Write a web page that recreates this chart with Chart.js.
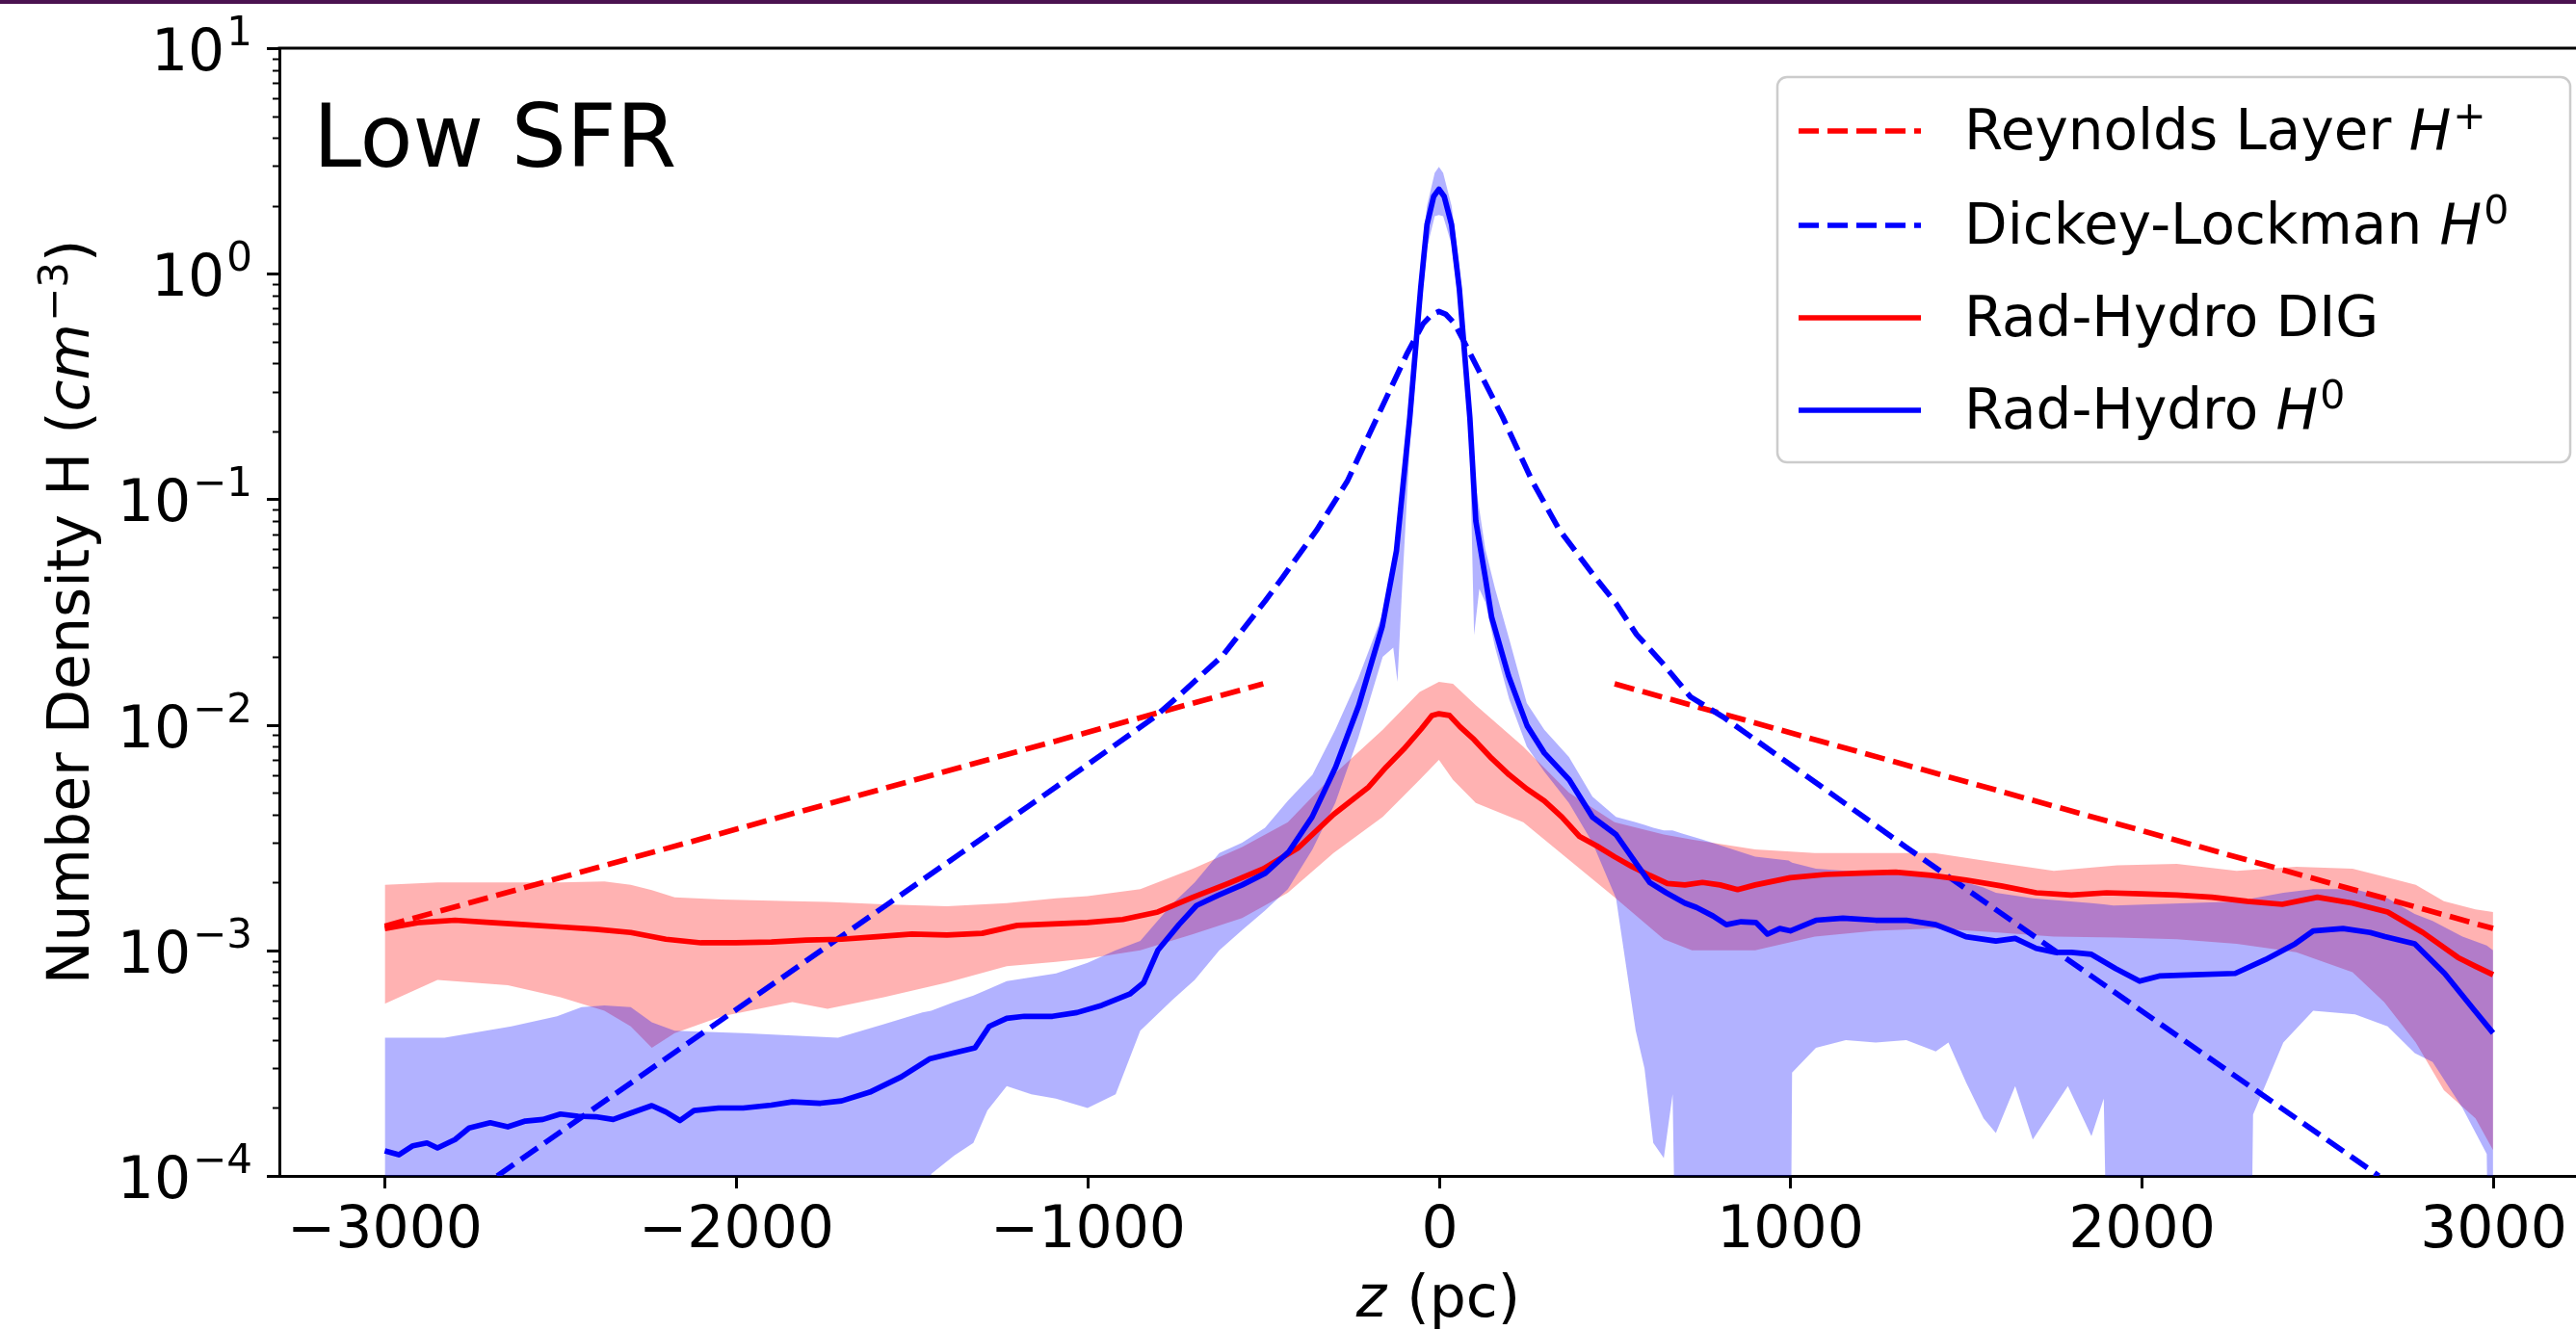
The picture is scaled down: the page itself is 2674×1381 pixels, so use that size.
<!DOCTYPE html>
<html><head><meta charset="utf-8">
<script src="https://cdn.jsdelivr.net/npm/chart.js@4.4.0/dist/chart.umd.min.js"></script>
<style>html,body{margin:0;padding:0;background:#fff;overflow:hidden}canvas{display:block}</style>
</head><body>
<canvas id="c" width="2674" height="1381"></canvas>
<script>
// ---------------- data ----------------
const xTickValues = [-3000, -2000, -1000, 0, 1000, 2000, 3000];
const xTickLabels = ['−3000', '−2000', '−1000', '0', '1000', '2000', '3000'];
const yTickValues = [1e-4, 1e-3, 1e-2, 1e-1, 1, 10];
const yTickExponents = ['−4', '−3', '−2', '−1', '0', '1'];

// Reynolds Layer H+ (dashed red), gap at the midplane
const reyZ = [-3000, -500, 0, 500, 3000];
const reyN = [1.28e-3, 0.0152, null, 0.0152, 1.25e-3];

// Dickey-Lockman H0 (dashed blue)
const dlZ = [-2680, -1360, -1090, -810, -730, -614, -494, -445, -348, -261, -175, -90, -45, -20, 0, 20, 45, 88, 181, 266, 343, 445, 504, 562, 637, 716, 810, 1090, 1329, 2675];
const dlN = [1.0e-4, 2.7e-3, 5.3e-3, 1.08e-2, 1.39e-2, 2.04e-2, 3.55e-2, 4.5e-2, 7.3e-2, 0.12, 0.232, 0.445, 0.6, 0.66, 0.68, 0.66, 0.6, 0.445, 0.232, 0.12, 0.073, 0.045, 0.0345, 0.0252, 0.0187, 0.0133, 1.08e-2, 5.3e-3, 2.87e-3, 1.0e-4];

// Rad-Hydro DIG mean (solid red)
const digZ = [-3000, -2900, -2800, -2700, -2600, -2500, -2400, -2300, -2200, -2100, -2000, -1900, -1800, -1700, -1600, -1500, -1400, -1300, -1200, -1100, -1000, -900, -800, -700, -600, -500, -400, -300, -200, -150, -100, -50, -20, 0, 30, 60, 100, 150, 200, 250, 300, 350, 400, 450, 500, 550, 600, 650, 700, 750, 800, 850, 900, 1000, 1100, 1200, 1300, 1400, 1500, 1600, 1700, 1800, 1900, 2000, 2100, 2200, 2300, 2400, 2500, 2600, 2700, 2800, 2900, 2950, 3000];
const digN = [1.25e-3, 1.33e-3, 1.36e-3, 1.33e-3, 1.3e-3, 1.27e-3, 1.24e-3, 1.2e-3, 1.12e-3, 1.08e-3, 1.08e-3, 1.09e-3, 1.11e-3, 1.12e-3, 1.15e-3, 1.18e-3, 1.17e-3, 1.19e-3, 1.29e-3, 1.31e-3, 1.33e-3, 1.37e-3, 1.48e-3, 1.72e-3, 1.98e-3, 2.3e-3, 2.85e-3, 4.0e-3, 5.3e-3, 6.5e-3, 7.8e-3, 9.6e-3, 1.1e-2, 1.12e-2, 1.1e-2, 9.8e-3, 8.6e-3, 7.1e-3, 6.0e-3, 5.2e-3, 4.6e-3, 3.9e-3, 3.2e-3, 2.9e-3, 2.6e-3, 2.35e-3, 2.15e-3, 1.98e-3, 1.95e-3, 2.0e-3, 1.95e-3, 1.86e-3, 1.95e-3, 2.1e-3, 2.17e-3, 2.2e-3, 2.22e-3, 2.15e-3, 2.05e-3, 1.93e-3, 1.8e-3, 1.76e-3, 1.8e-3, 1.78e-3, 1.76e-3, 1.72e-3, 1.65e-3, 1.6e-3, 1.72e-3, 1.62e-3, 1.48e-3, 1.2e-3, 9.3e-4, 8.5e-4, 7.8e-4];

// Rad-Hydro DIG spread (red band)
const digBandZ = [-3000, -2850, -2650, -2500, -2375, -2300, -2240, -2175, -2040, -1840, -1740, -1580, -1400, -1230, -1090, -1000, -850, -700, -560, -430, -300, -160, -55, 0, 40, 105, 240, 370, 500, 640, 720, 900, 1070, 1240, 1410, 1590, 1750, 1930, 2100, 2270, 2440, 2600, 2690, 2780, 2860, 2950, 3000];
const digHi = [1.95e-3, 2.0e-3, 2.0e-3, 2.0e-3, 2.02e-3, 1.95e-3, 1.85e-3, 1.72e-3, 1.68e-3, 1.65e-3, 1.64e-3, 1.6e-3, 1.57e-3, 1.62e-3, 1.7e-3, 1.74e-3, 1.87e-3, 2.3e-3, 2.87e-3, 3.7e-3, 6.0e-3, 9.5e-3, 1.4e-2, 1.55e-2, 1.52e-2, 1.22e-2, 8.0e-3, 5.0e-3, 3.7e-3, 3.26e-3, 3.1e-3, 2.8e-3, 2.7e-3, 2.7e-3, 2.7e-3, 2.45e-3, 2.25e-3, 2.38e-3, 2.42e-3, 2.25e-3, 2.35e-3, 2.3e-3, 2.12e-3, 1.95e-3, 1.65e-3, 1.52e-3, 1.48e-3];
const digLo = [5.8e-4, 7.4e-4, 7.0e-4, 6.2e-4, 5.4e-4, 4.6e-4, 3.7e-4, 4.3e-4, 5.1e-4, 5.9e-4, 5.5e-4, 6.2e-4, 7.2e-4, 8.5e-4, 8.9e-4, 9.2e-4, 1.0e-3, 1.18e-3, 1.39e-3, 1.8e-3, 2.7e-3, 3.9e-3, 5.7e-3, 7.0e-3, 5.7e-3, 4.5e-3, 3.7e-3, 2.52e-3, 1.72e-3, 1.12e-3, 1.0e-3, 1.0e-3, 1.15e-3, 1.22e-3, 1.25e-3, 1.2e-3, 1.15e-3, 1.14e-3, 1.12e-3, 1.07e-3, 9.8e-4, 8.0e-4, 5.9e-4, 3.9e-4, 2.4e-4, 1.8e-4, 1.3e-4];

// Rad-Hydro H0 mean (solid blue)
const h0Z = [-3000, -2960, -2920, -2880, -2850, -2800, -2760, -2700, -2650, -2600, -2550, -2500, -2450, -2400, -2350, -2300, -2240, -2200, -2160, -2120, -2050, -1980, -1900, -1840, -1760, -1700, -1620, -1530, -1450, -1400, -1320, -1280, -1230, -1180, -1100, -1030, -960, -880, -840, -800, -740, -690, -630, -560, -494, -427, -361, -294, -228, -161, -121, -83, -52, -34, -15, 0, 15, 36, 58, 88, 105, 132, 150, 198, 251, 300, 371, 437, 504, 562, 600, 647, 700, 733, 780, 818, 860, 902, 935, 970, 1000, 1073, 1150, 1243, 1330, 1414, 1460, 1500, 1585, 1640, 1700, 1755, 1800, 1857, 1926, 1994, 2050, 2150, 2266, 2352, 2437, 2488, 2573, 2650, 2692, 2777, 2862, 2948, 3000];
const h0N = [1.29e-4, 1.24e-4, 1.36e-4, 1.4e-4, 1.33e-4, 1.45e-4, 1.63e-4, 1.72e-4, 1.65e-4, 1.75e-4, 1.78e-4, 1.88e-4, 1.84e-4, 1.83e-4, 1.78e-4, 1.9e-4, 2.05e-4, 1.92e-4, 1.76e-4, 1.95e-4, 2.0e-4, 2.0e-4, 2.06e-4, 2.13e-4, 2.1e-4, 2.15e-4, 2.35e-4, 2.75e-4, 3.3e-4, 3.45e-4, 3.7e-4, 4.6e-4, 5.0e-4, 5.1e-4, 5.1e-4, 5.3e-4, 5.7e-4, 6.4e-4, 7.2e-4, 1.0e-3, 1.3e-3, 1.58e-3, 1.75e-3, 1.95e-3, 2.2e-3, 2.74e-3, 3.9e-3, 6.5e-3, 1.22e-2, 2.74e-2, 5.9e-2, 0.23, 0.86, 1.65, 2.2, 2.37, 2.2, 1.65, 0.86, 0.23, 0.08, 0.045, 0.03, 0.0165, 9.9e-3, 7.5e-3, 5.7e-3, 3.9e-3, 3.26e-3, 2.42e-3, 2.0e-3, 1.8e-3, 1.62e-3, 1.55e-3, 1.42e-3, 1.3e-3, 1.34e-3, 1.33e-3, 1.18e-3, 1.25e-3, 1.22e-3, 1.36e-3, 1.39e-3, 1.36e-3, 1.36e-3, 1.3e-3, 1.22e-3, 1.15e-3, 1.1e-3, 1.13e-3, 1.02e-3, 9.8e-4, 9.8e-4, 9.6e-4, 8.3e-4, 7.3e-4, 7.7e-4, 7.8e-4, 7.9e-4, 9.1e-4, 1.07e-3, 1.22e-3, 1.25e-3, 1.2e-3, 1.15e-3, 1.07e-3, 7.9e-4, 5.4e-4, 4.3e-4];

// Rad-Hydro H0 spread (blue band); 1e-6 marks a lower edge below the axis
const h0BandZ = [-3000, -2830, -2640, -2510, -2440, -2375, -2300, -2240, -2175, -1980, -1710, -1580, -1470, -1445, -1380, -1325, -1285, -1230, -1160, -1090, -1000, -920, -850, -760, -695, -625, -560, -495, -430, -360, -295, -230, -160, -130, -118, -105, -83, -52, -34, -12, 0, 12, 36, 58, 88, 100, 115, 132, 160, 200, 250, 300, 370, 437, 504, 560, 585, 610, 640, 665, 690, 750, 900, 995, 1005, 1073, 1158, 1243, 1330, 1414, 1450, 1500, 1550, 1585, 1640, 1690, 1790, 1857, 1892, 1920, 2300, 2317, 2403, 2488, 2607, 2700, 2777, 2828, 2913, 2982, 3000];
const h0Hi = [4.1e-4, 4.1e-4, 4.6e-4, 5.1e-4, 5.6e-4, 5.7e-4, 5.6e-4, 4.8e-4, 4.4e-4, 4.3e-4, 4.1e-4, 4.7e-4, 5.3e-4, 5.4e-4, 5.9e-4, 6.3e-4, 6.7e-4, 7.3e-4, 7.6e-4, 7.9e-4, 8.8e-4, 1.0e-3, 1.1e-3, 1.6e-3, 2.0e-3, 2.7e-3, 3.0e-3, 3.5e-3, 4.6e-3, 6.0e-3, 9.5e-3, 1.6e-2, 3.1e-2, 5.0e-2, 7.0e-2, 0.12, 0.3, 1.1, 2.0, 2.8, 2.98, 2.8, 2.0, 1.1, 0.3, 0.13, 0.09, 0.06, 0.04, 0.024, 0.0125, 0.0095, 0.0072, 0.0048, 0.0039, 0.0037, 0.0036, 0.0035, 0.0034, 0.0034, 0.0033, 3.1e-3, 2.6e-3, 2.5e-3, 2.45e-3, 2.3e-3, 2.25e-3, 2.22e-3, 2.15e-3, 2.1e-3, 2.05e-3, 2.0e-3, 1.9e-3, 1.8e-3, 1.75e-3, 1.7e-3, 1.65e-3, 1.62e-3, 1.6e-3, 1.58e-3, 1.65e-3, 1.7e-3, 1.8e-3, 1.87e-3, 1.87e-3, 1.7e-3, 1.45e-3, 1.35e-3, 1.15e-3, 1.05e-3, 1.0e-3];
const h0Lo = [1e-6, 1e-6, 1e-6, 1e-6, 1e-6, 1e-6, 1e-6, 1e-6, 1e-6, 1e-6, 1e-6, 1e-6, 1e-6, 1.02e-4, 1.23e-4, 1.4e-4, 1.95e-4, 2.5e-4, 2.3e-4, 2.2e-4, 2.0e-4, 2.3e-4, 4.4e-4, 6.0e-4, 7.4e-4, 1.0e-3, 1.23e-3, 1.5e-3, 1.87e-3, 2.8e-3, 4.5e-3, 8.7e-3, 2.0e-2, 2.2e-2, 1.55e-2, 4e-2, 0.17, 0.65, 1.3, 1.8, 1.82, 1.8, 1.35, 0.7, 0.17, 0.025, 0.04, 0.035, 0.022, 0.013, 0.008, 0.0062, 0.0045, 0.003, 0.0017, 4.4e-4, 3.0e-4, 1.4e-4, 1.2e-4, 2.3e-4, 1e-6, 1e-6, 1e-6, 1e-6, 2.87e-4, 3.7e-4, 4.0e-4, 3.9e-4, 4.0e-4, 3.56e-4, 3.9e-4, 2.6e-4, 1.8e-4, 1.55e-4, 2.5e-4, 1.45e-4, 2.5e-4, 1.5e-4, 2.2e-4, 1e-6, 1e-6, 1.87e-4, 3.9e-4, 5.4e-4, 5.2e-4, 4.6e-4, 3.5e-4, 3.2e-4, 2.0e-4, 1.25e-4, 1e-6];

// ---------------- chart ----------------
const FONT = 'DejaVu Sans';
const RED = '#ff0000', BLUE = '#0000ff';
const LW = 5.7;
const DASH = [21, 9];
const pts = (zs, ns) => zs.map((z, i) => ({x: z, y: ns[i]}));

const legendItems = [
  {runs: [['Reynolds Layer ', 'n'], ['H', 'i'], ['+', 's']], color: RED, dash: DASH},
  {runs: [['Dickey-Lockman ', 'n'], ['H', 'i'], ['0', 's']], color: BLUE, dash: DASH},
  {runs: [['Rad-Hydro DIG', 'n']], color: RED, dash: []},
  {runs: [['Rad-Hydro ', 'n'], ['H', 'i'], ['0', 's']], color: BLUE, dash: []}
];

function fontFor(kind, size) {
  if (kind === 'i') return 'italic ' + size + 'px "' + FONT + '"';
  if (kind === 's') return Math.round(size * 0.7) + 'px "' + FONT + '"';
  return size + 'px "' + FONT + '"';
}
function runsWidth(ctx, runs, size) {
  let w = 0;
  for (const [t, k] of runs) { ctx.font = fontFor(k, size); w += ctx.measureText(t).width + (k === 'i' ? 2 : 0); }
  return w;
}
function drawRuns(ctx, runs, x, y, size, raise) {
  ctx.textAlign = 'left'; ctx.textBaseline = 'alphabetic';
  for (const [t, k] of runs) {
    ctx.font = fontFor(k, size);
    ctx.fillText(t, x, k === 's' ? y - raise : y);
    x += ctx.measureText(t).width + (k === 'i' ? 2 : 0);
  }
}

const decor = {
  id: 'decor',
  beforeDraw(chart) {
    const ctx = chart.ctx;
    ctx.save(); ctx.fillStyle = '#fff'; ctx.fillRect(0, 0, chart.width, chart.height); ctx.restore();
  },
  afterDraw(chart) {
    const ctx = chart.ctx, a = chart.chartArea;
    const xs = chart.scales.x, ys = chart.scales.y;
    ctx.save();
    ctx.strokeStyle = '#000';
    // top frame stripe
    ctx.fillStyle = '#4b1250'; ctx.fillRect(0, 0, chart.width, 4);
    ctx.fillStyle = '#000';
    // top spine
    ctx.lineWidth = 3; ctx.beginPath(); ctx.moveTo(a.left - 1.5, a.top); ctx.lineTo(a.right, a.top); ctx.stroke();
    // x ticks and labels
    ctx.font = '60px "' + FONT + '"'; ctx.textAlign = 'center'; ctx.textBaseline = 'alphabetic';
    xTickValues.forEach((v, i) => {
      const px = Math.round(xs.getPixelForValue(v)) + 0.5;
      ctx.beginPath(); ctx.moveTo(px, a.bottom); ctx.lineTo(px, a.bottom + 13); ctx.stroke();
      ctx.fillText(xTickLabels[i], px, 1295);
    });
    // y major ticks, labels
    yTickValues.forEach((v, i) => {
      const py = Math.round(ys.getPixelForValue(v)) + 0.5;
      ctx.lineWidth = 3;
      ctx.beginPath(); ctx.moveTo(a.left, py); ctx.lineTo(a.left - 13, py); ctx.stroke();
      const right = 262;
      ctx.font = '42px "' + FONT + '"'; ctx.textAlign = 'right';
      const ew = ctx.measureText(yTickExponents[i]).width;
      ctx.fillText(yTickExponents[i], right, py - 4);
      ctx.font = '60px "' + FONT + '"';
      ctx.fillText('10', right - ew - 2, py + 22);
    });
    // y minor ticks
    ctx.lineWidth = 2;
    for (let e = -4; e < 1; e++) {
      for (let k = 2; k <= 9; k++) {
        const py = Math.round(ys.getPixelForValue(k * Math.pow(10, e))) + 0.5;
        ctx.beginPath(); ctx.moveTo(a.left, py); ctx.lineTo(a.left - 7, py); ctx.stroke();
      }
    }
    // x title
    const xt = [['z', 'i'], [' (pc)', 'n']];
    const xw = runsWidth(ctx, xt, 60);
    drawRuns(ctx, xt, 1493 - xw / 2, 1367, 60, 0);
    // y title (rotated)
    const yt = [['Number Density H (', 'n'], ['cm', 'i'], ['−3', 's'], [')', 'n']];
    const yw = runsWidth(ctx, yt, 60);
    ctx.save();
    ctx.translate(92, (a.top + a.bottom) / 2);
    ctx.rotate(-Math.PI / 2);
    drawRuns(ctx, yt, -yw / 2, 0, 60, 22);
    ctx.restore();
    // panel label
    ctx.font = '90px "' + FONT + '"'; ctx.textAlign = 'left';
    ctx.fillText('Low SFR', 325, 173);
    // legend
    const lx = 1845, ly = 80, lw = 823, lh = 400, r = 10;
    ctx.beginPath();
    ctx.moveTo(lx + r, ly); ctx.lineTo(lx + lw - r, ly); ctx.arcTo(lx + lw, ly, lx + lw, ly + r, r);
    ctx.lineTo(lx + lw, ly + lh - r); ctx.arcTo(lx + lw, ly + lh, lx + lw - r, ly + lh, r);
    ctx.lineTo(lx + r, ly + lh); ctx.arcTo(lx, ly + lh, lx, ly + lh - r, r);
    ctx.lineTo(lx, ly + r); ctx.arcTo(lx, ly, lx + r, ly, r); ctx.closePath();
    ctx.fillStyle = 'rgba(255,255,255,0.8)'; ctx.fill();
    ctx.lineWidth = 2.5; ctx.strokeStyle = '#cccccc'; ctx.stroke();
    const baselines = [155, 253, 349, 445];
    legendItems.forEach((it, i) => {
      const by = baselines[i];
      ctx.save();
      ctx.strokeStyle = it.color; ctx.lineWidth = LW; ctx.setLineDash(it.dash); ctx.lineCap = 'butt';
      ctx.beginPath(); ctx.moveTo(1867, by - 19); ctx.lineTo(1994, by - 19); ctx.stroke();
      ctx.restore();
      ctx.fillStyle = '#000';
      drawRuns(ctx, it.runs, 2039, by, 58, 21);
    });
    ctx.restore();
  }
};

const lineBase = {pointRadius: 0, pointHoverRadius: 0, borderWidth: LW, tension: 0, fill: false, borderCapStyle: 'butt', borderJoinStyle: 'round', spanGaps: false};
const bandBase = {pointRadius: 0, pointHoverRadius: 0, borderWidth: 0, tension: 0, borderColor: 'rgba(0,0,0,0)'};

new Chart(document.getElementById('c'), {
  type: 'line',
  data: {
    datasets: [
      Object.assign({}, bandBase, {label: 'DIG hi', data: pts(digBandZ, digHi), fill: '+1', backgroundColor: 'rgba(255,0,0,0.3)', order: 10}),
      Object.assign({}, bandBase, {label: 'DIG lo', data: pts(digBandZ, digLo), fill: false, order: 10}),
      Object.assign({}, bandBase, {label: 'H0 hi', data: pts(h0BandZ, h0Hi), fill: '+1', backgroundColor: 'rgba(0,0,255,0.3)', order: 9}),
      Object.assign({}, bandBase, {label: 'H0 lo', data: pts(h0BandZ, h0Lo), fill: false, order: 9}),
      Object.assign({}, lineBase, {label: 'Reynolds Layer H+', data: pts(reyZ, reyN), borderColor: RED, borderDash: DASH, order: 5}),
      Object.assign({}, lineBase, {label: 'Dickey-Lockman H0', data: pts(dlZ, dlN), borderColor: BLUE, borderDash: DASH, order: 4}),
      Object.assign({}, lineBase, {label: 'Rad-Hydro DIG', data: pts(digZ, digN), borderColor: RED, order: 2}),
      Object.assign({}, lineBase, {label: 'Rad-Hydro H0', data: pts(h0Z, h0N), borderColor: BLUE, order: 1})
    ]
  },
  options: {
    responsive: false,
    animation: false,
    devicePixelRatio: 1,
    events: [],
    layout: {padding: {top: 50, left: 0, right: 0, bottom: 0}},
    plugins: {legend: {display: false}, tooltip: {enabled: false}, title: {display: false}},
    scales: {
      x: {
        type: 'linear', min: -3300, max: 3236,
        ticks: {display: false},
        grid: {display: false},
        border: {display: true, color: '#000', width: 3},
        afterFit(s) { s.height = 160; }
      },
      y: {
        type: 'logarithmic', min: 1e-4, max: 10,
        ticks: {display: false},
        grid: {display: false},
        border: {display: true, color: '#000', width: 3},
        afterFit(s) { s.width = 290; }
      }
    }
  },
  plugins: [decor]
});
</script>
</body></html>
